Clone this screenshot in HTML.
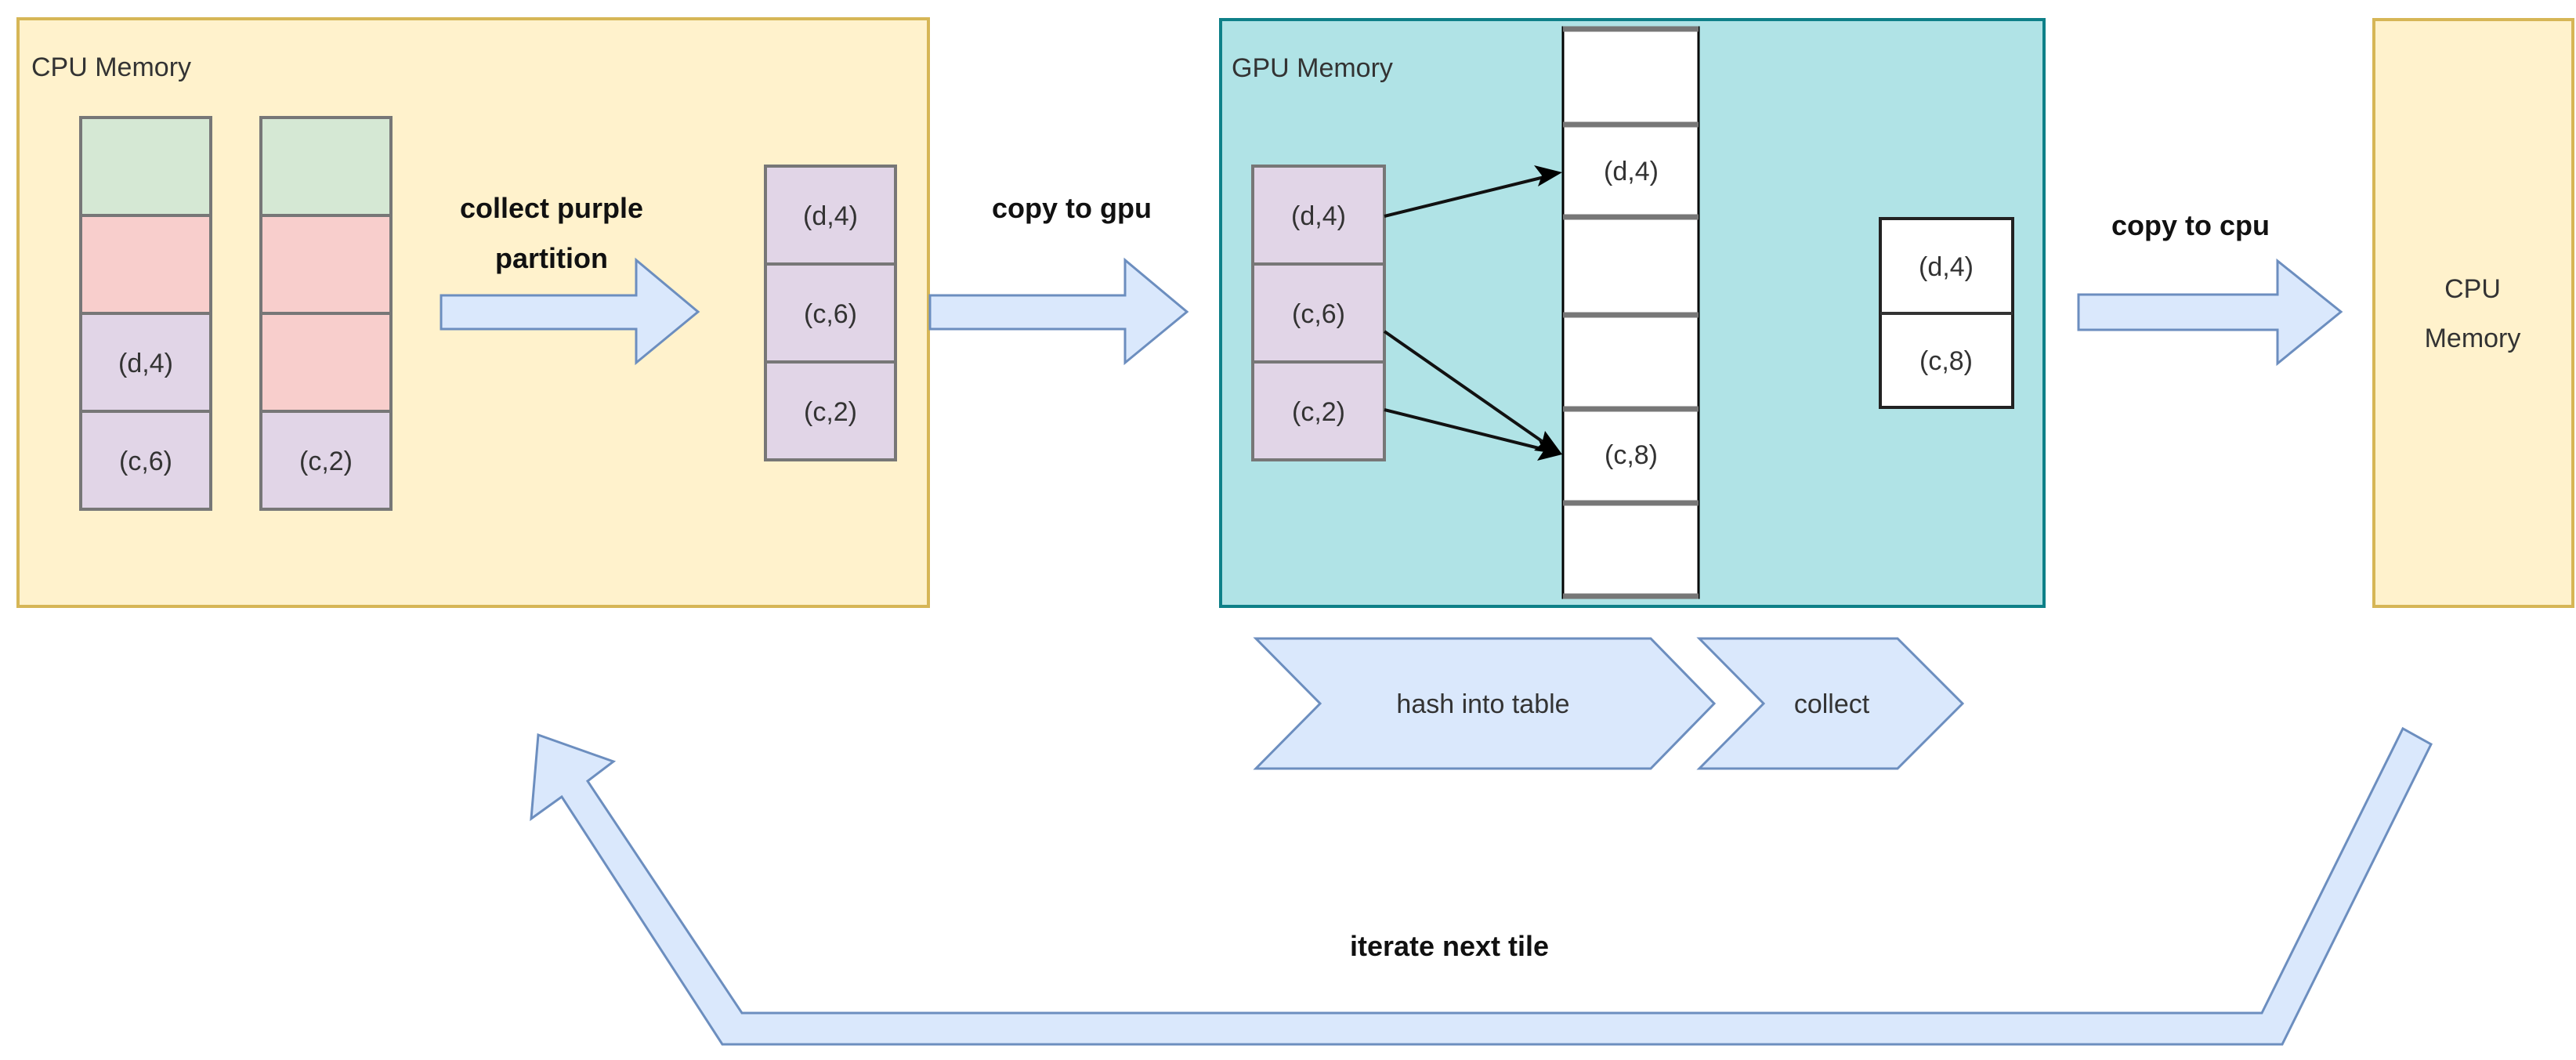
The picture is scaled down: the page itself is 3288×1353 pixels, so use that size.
<!DOCTYPE html>
<html><head><meta charset="utf-8"><style>html,body{margin:0;padding:0;background:#fff}svg{display:block}</style></head>
<body>
<svg width="3288" height="1353" viewBox="0 0 3288 1353" xmlns="http://www.w3.org/2000/svg" font-family="Liberation Sans, sans-serif">
<defs>
<marker id="ah" markerWidth="10" markerHeight="10" refX="9" refY="5" orient="auto" markerUnits="userSpaceOnUse" viewBox="0 0 10 10">
</marker>
</defs>
<!-- CPU memory left -->
<rect x="23" y="24" width="1162" height="750" fill="#fff2cc" stroke="#d6b656" stroke-width="4"/>
<text x="40" y="97" font-size="34" fill="#333">CPU Memory</text>
<g stroke="#777" stroke-width="4">
<rect x="103" y="150" width="166" height="125" fill="#d5e8d4"/>
<rect x="103" y="275" width="166" height="125" fill="#f8cecc"/>
<rect x="103" y="400" width="166" height="125" fill="#e1d5e7"/>
<rect x="103" y="525" width="166" height="125" fill="#e1d5e7"/>
<rect x="333" y="150" width="166" height="125" fill="#d5e8d4"/>
<rect x="333" y="275" width="166" height="125" fill="#f8cecc"/>
<rect x="333" y="400" width="166" height="125" fill="#f8cecc"/>
<rect x="333" y="525" width="166" height="125" fill="#e1d5e7"/>
<rect x="977" y="212" width="166" height="125" fill="#e1d5e7"/>
<rect x="977" y="337" width="166" height="125" fill="#e1d5e7"/>
<rect x="977" y="462" width="166" height="125" fill="#e1d5e7"/>
</g>
<g font-size="34" fill="#333" text-anchor="middle">
<text x="186" y="475">(d,4)</text>
<text x="186" y="600">(c,6)</text>
<text x="416" y="600">(c,2)</text>
<text x="1060" y="287">(d,4)</text>
<text x="1060" y="412">(c,6)</text>
<text x="1060" y="537">(c,2)</text>
</g>
<g fill="#dae8fc" stroke="#6c8ebf" stroke-width="3">
<polygon points="563,377 812,377 812,332 891,398 812,463 812,420 563,420"/>
<polygon points="1187,377 1436,377 1436,332 1515,398 1436,463 1436,420 1187,420"/>
<polygon points="2653,376 2907,376 2907,333 2988,398 2907,464 2907,421 2653,421"/>
</g>
<g font-size="36" font-weight="bold" fill="#111" text-anchor="middle">
<text x="704" y="278">collect purple</text>
<text x="704" y="342">partition</text>
<text x="1368" y="278">copy to gpu</text>
<text x="2796" y="300">copy to cpu</text>
<text x="1850" y="1220">iterate next tile</text>
</g>
<!-- GPU memory -->
<rect x="1558" y="25" width="1051" height="749" fill="#b0e3e6" stroke="#0e8088" stroke-width="4"/>
<text x="1572" y="98" font-size="34" fill="#333">GPU Memory</text>
<g stroke="#777" stroke-width="4" fill="#e1d5e7">
<rect x="1599" y="212" width="168" height="125"/>
<rect x="1599" y="337" width="168" height="125"/>
<rect x="1599" y="462" width="168" height="125"/>
</g>
<g font-size="34" fill="#333" text-anchor="middle">
<text x="1683" y="287">(d,4)</text>
<text x="1683" y="412">(c,6)</text>
<text x="1683" y="537">(c,2)</text>
</g>
<!-- hash table -->
<rect x="1995" y="35" width="173" height="728" fill="#fff" stroke="#000" stroke-width="3"/>
<g stroke="#777" stroke-width="7">
<line x1="1995" y1="37" x2="2168" y2="37"/>
<line x1="1995" y1="159" x2="2168" y2="159"/>
<line x1="1995" y1="277" x2="2168" y2="277"/>
<line x1="1995" y1="402" x2="2168" y2="402"/>
<line x1="1995" y1="522" x2="2168" y2="522"/>
<line x1="1995" y1="642" x2="2168" y2="642"/>
<line x1="1995" y1="761" x2="2168" y2="761"/>
</g>
<g font-size="34" fill="#333" text-anchor="middle">
<text x="2082" y="230">(d,4)</text>
<text x="2082" y="592">(c,8)</text>
</g>
<g stroke="#111" stroke-width="4">
<line x1="1767" y1="276" x2="1975" y2="225"/>
<line x1="1767" y1="423" x2="1978" y2="570"/>
<line x1="1767" y1="523" x2="1976" y2="575"/>
</g>
<g fill="#000">
<polygon points="1994,220 1963,238 1968,224 1958,211"/>
<polygon points="1994,580 1958,575 1968,566 1972,550"/>
<polygon points="1994,580 1962,588 1970,576 1964,562"/>
</g>
<!-- result -->
<rect x="2400" y="279" width="169" height="241" fill="#fff" stroke="#222" stroke-width="4"/>
<line x1="2400" y1="400" x2="2569" y2="400" stroke="#333" stroke-width="4"/>
<g font-size="34" fill="#333" text-anchor="middle">
<text x="2484" y="352">(d,4)</text>
<text x="2484" y="472">(c,8)</text>
</g>
<!-- CPU memory right -->
<rect x="3030" y="25" width="254" height="749" fill="#fff2cc" stroke="#d6b656" stroke-width="4"/>
<g font-size="34" fill="#333" text-anchor="middle">
<text x="3156" y="380">CPU</text>
<text x="3156" y="443">Memory</text>
</g>
<!-- chevrons -->
<g fill="#dae8fc" stroke="#6c8ebf" stroke-width="3">
<polygon points="1603,815 2107,815 2188,898 2107,981 1603,981 1685,898"/>
<polygon points="2169,815 2422,815 2505,898 2422,981 2169,981 2251,898"/>
</g>
<g font-size="34" fill="#333" text-anchor="middle">
<text x="1893" y="910">hash into table</text>
<text x="2338" y="910">collect</text>
</g>
<!-- loop arrow -->
<polygon points="687,938 783,972 750,997 947,1293 2887,1293 3067,930 3103,950 2913,1333 922,1333 717,1017 678,1045" fill="#dae8fc" stroke="#6c8ebf" stroke-width="3"/>
</svg>
</body></html>
